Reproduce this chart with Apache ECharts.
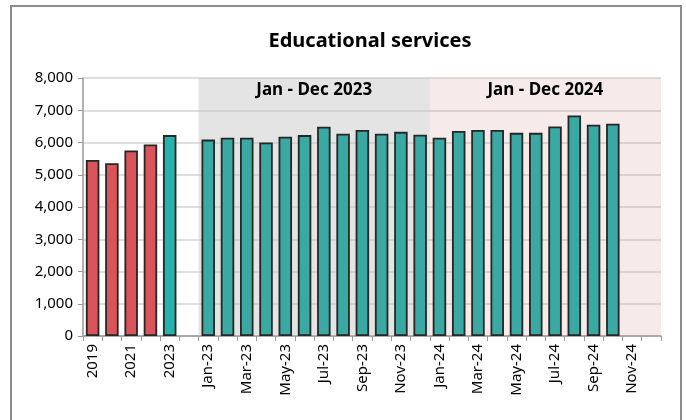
<!DOCTYPE html>
<html>
<head>
<meta charset="utf-8">
<script src="https://cdn.jsdelivr.net/npm/echarts@6/dist/echarts.min.js"></script>
<style>html,body{margin:0;padding:0;background:#fff}#c{width:686px;height:420px}</style>
</head>
<body>
<div id="c"></div>
<script>
const titleText = 'Educational services';
const annualCats = ['2019', '2020', '2021', '2022', '2023'];
const annualVals = [5460, 5360, 5750, 5940, 6230];
const gapCats = [''];
const cats2023 = ['Jan-23','Feb-23','Mar-23','Apr-23','May-23','Jun-23','Jul-23','Aug-23','Sep-23','Oct-23','Nov-23','Dec-23'];
const vals2023 = [6090, 6150, 6150, 6000, 6180, 6230, 6490, 6270, 6390, 6270, 6330, 6240];
const cats2024 = ['Jan-24','Feb-24','Mar-24','Apr-24','May-24','Jun-24','Jul-24','Aug-24','Sep-24','Oct-24','Nov-24','Dec-24'];
const vals2024 = [6150, 6360, 6390, 6390, 6300, 6300, 6500, 6840, 6550, 6580, null, null];
const bandLabels = ['Jan - Dec 2023', 'Jan - Dec 2024'];
const yTicks = [0, 1000, 2000, 3000, 4000, 5000, 6000, 7000, 8000];

const categories = [].concat(annualCats, gapCats, cats2023, cats2024);
const RED = '#d9545b', TEAL_ANNUAL = '#28b2ad', TEAL = '#3aa8a3';
const barData = [];
annualCats.forEach((c, i) => barData.push({value: annualVals[i], itemStyle: {color: i < annualCats.length - 1 ? RED : TEAL_ANNUAL}}));
gapCats.forEach(() => barData.push({value: null}));
vals2023.forEach(v => barData.push({value: v, itemStyle: {color: TEAL}}));
vals2024.forEach(v => barData.push({value: v, itemStyle: {color: TEAL}}));

const start23 = annualCats.length + gapCats.length;
const start24 = start23 + cats2023.length;
const end24 = start24 + cats2024.length;
const font = '"Noto Sans", "Open Sans", sans-serif';

const chart = echarts.init(document.getElementById('c'), null, {renderer: 'canvas'});
chart.setOption({
  animation: false,
  backgroundColor: '#fff',
  title: {
    text: titleText, left: 365, top: 26, textAlign: 'center',
    textStyle: {fontFamily: font, fontSize: 20, fontWeight: 'bold', color: '#000'}
  },
  graphic: [{
    type: 'rect', shape: {x: 11, y: 6, width: 670, height: 440},
    style: {fill: 'none', stroke: '#8c8c8c', lineWidth: 2}, silent: true
  }],
  grid: {left: 83, right: 25, top: 78, bottom: 84},
  xAxis: [{
    type: 'category', data: categories,
    axisLine: {lineStyle: {color: '#9a9a9a', width: 1.5}},
    axisTick: {show: true, interval: 0, length: 5, lineStyle: {color: '#9a9a9a'}},
    axisLabel: {interval: 1, rotate: 90, fontFamily: font, fontSize: 15, color: '#000', margin: 8}
  }, {
    type: 'value', min: 0, max: categories.length, show: false
  }],
  yAxis: {
    type: 'value', min: 0, max: 8000, interval: 1000,
    axisLine: {show: true, lineStyle: {color: '#9a9a9a', width: 1.5}},
    axisTick: {show: true, length: 5, lineStyle: {color: '#9a9a9a'}},
    axisLabel: {fontFamily: font, fontSize: 15, color: '#000', margin: 10,
      formatter: v => yTicks.includes(v) ? v.toLocaleString('en-US') : ''},
    splitLine: {lineStyle: {color: '#d4d4d4', width: 1.5}}
  },
  series: [{
    type: 'bar', data: barData, barCategoryGap: '30%',
    itemStyle: {borderColor: '#262626', borderWidth: 1.8},
    z: 3
  }, {
    type: 'line', xAxisIndex: 1, data: [], z: 1,
    markArea: {
      silent: true,
      label: {position: 'insideTop', distance: 4, fontFamily: font, fontSize: 17, fontWeight: 'bold', color: '#000'},
      data: [
        [{xAxis: start23, yAxis: 0, name: bandLabels[0], itemStyle: {color: 'rgba(190,190,190,0.42)'}}, {xAxis: start24, yAxis: 8000}],
        [{xAxis: start24, yAxis: 0, name: bandLabels[1], itemStyle: {color: 'rgba(215,150,150,0.2)'}}, {xAxis: end24, yAxis: 8000}]
      ]
    }
  }]
});
</script>
</body>
</html>
